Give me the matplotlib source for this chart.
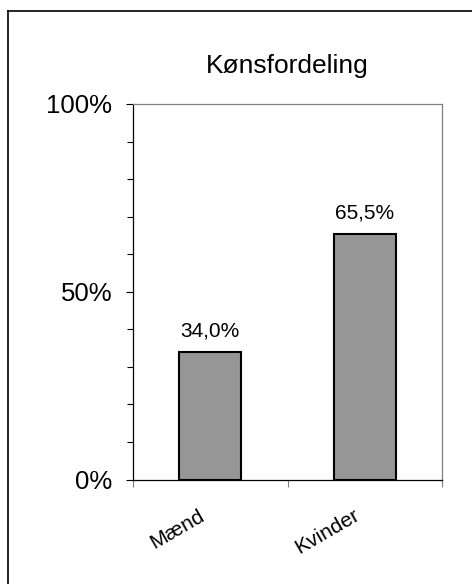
import matplotlib
matplotlib.use("Agg")
import matplotlib.pyplot as plt
from matplotlib.lines import Line2D
from matplotlib.transforms import ScaledTranslation
from matplotlib.ticker import MultipleLocator, FuncFormatter

plt.rcParams['font.family'] = ['Liberation Sans', 'DejaVu Sans']

# data
categories = ["Mænd", "Kvinder"]
shares = [34.0, 65.5]
titleText = "Kønsfordeling"

fig = plt.figure(figsize=(4.72, 5.84), dpi=100)
ax = fig.add_axes([133/472, 104.5/584, 309/472, 375.5/584])

x = range(len(categories))
bars = ax.bar(x, shares, width=0.4, color="#969696", edgecolor="black", linewidth=1.5)

# value labels, danish decimal comma
for b, v in zip(bars, shares):
    ax.annotate(("%.1f%%" % v).replace(".", ","),
                xy=(b.get_x() + b.get_width()/2, v), xytext=(0, 11),
                textcoords="offset points", ha="center", va="baseline", fontsize=15)

ax.set_xlim(-0.5, len(categories) - 0.5)
ax.set_ylim(0, 100)

# y axis
ax.yaxis.set_major_locator(MultipleLocator(50))
ax.yaxis.set_minor_locator(MultipleLocator(10))
ax.yaxis.set_major_formatter(FuncFormatter(lambda v, p: "%d%%" % v))
ax.tick_params(axis="y", which="major", direction="out", length=5, width=0.8, pad=10, labelsize=18.5)
ax.tick_params(axis="y", which="minor", direction="out", length=4, width=0.8)

# x axis: ticks between categories, labels rotated
ax.set_xticks([-0.5, 0.5, 1.5])
ax.set_xticklabels([])
ax.set_xticks(list(x), minor=True)
ax.set_xticklabels(categories, minor=True, rotation=30, ha="right",
                   rotation_mode="anchor", fontsize=15)
ax.tick_params(axis="x", which="major", direction="out", length=5, width=0.8, colors="#808080")
ax.tick_params(axis="x", which="minor", length=0, pad=19, labelcolor="black")
for lbl in ax.get_xticklabels(minor=True):
    lbl.set_transform(lbl.get_transform() + ScaledTranslation(-0.12, 0, fig.dpi_scale_trans))

# plot area borders
for s in ["left", "bottom"]:
    ax.spines[s].set_color("black")
    ax.spines[s].set_linewidth(0.9)
for s in ["top", "right"]:
    ax.spines[s].set_color("#808080")
    ax.spines[s].set_linewidth(0.9)

ax.set_title(titleText, fontsize=19, pad=22)

# outer chart frame (only left and top edge visible)
fig.add_artist(Line2D([8/472, 8/472], [0, 1 - 11/584], color="black", linewidth=1.2, transform=fig.transFigure))
fig.add_artist(Line2D([8/472, 1], [1 - 11/584, 1 - 11/584], color="black", linewidth=1.2, transform=fig.transFigure))

plt.savefig("out.png", dpi=100)
